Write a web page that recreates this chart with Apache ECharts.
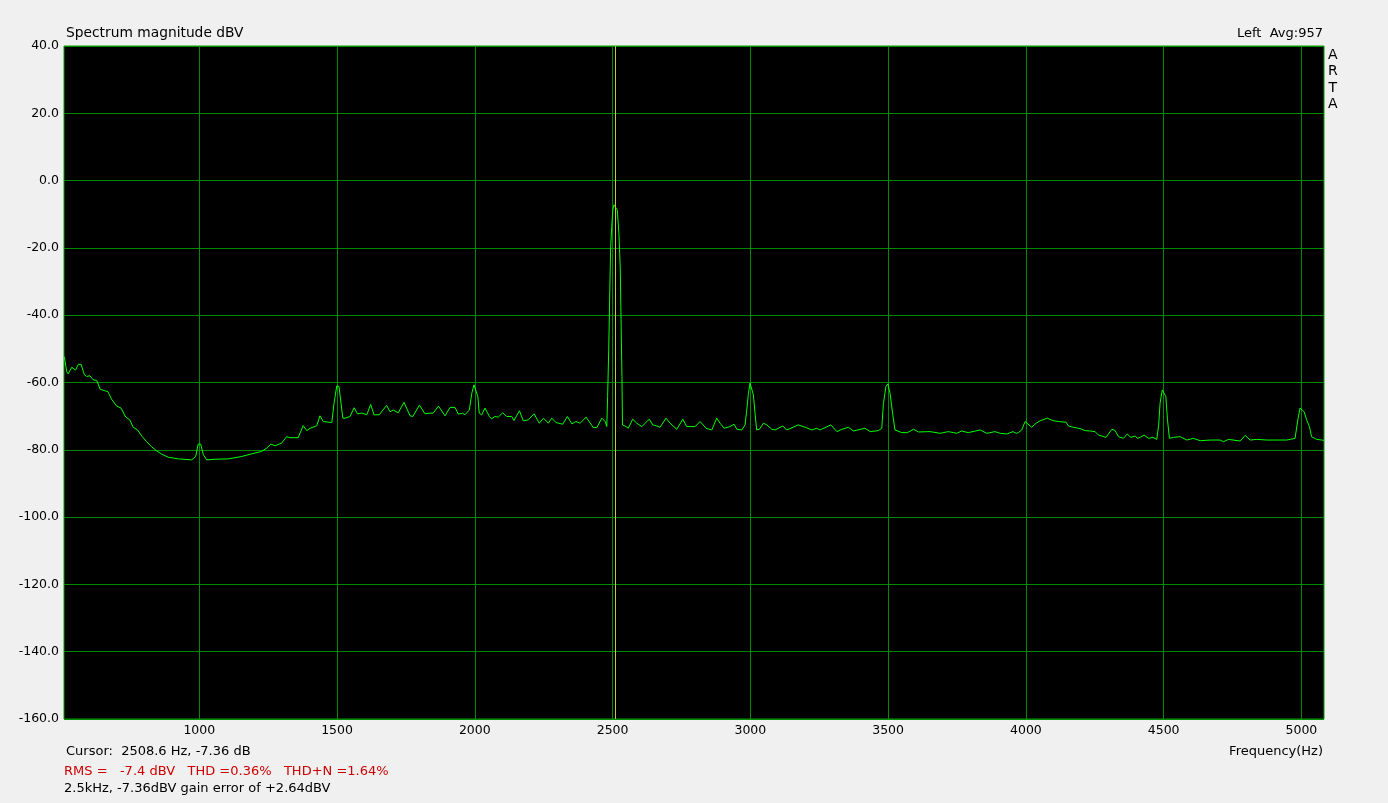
<!DOCTYPE html>
<html>
<head>
<meta charset="utf-8">
<script src="https://cdn.jsdelivr.net/npm/echarts@6/dist/echarts.min.js"></script>
<style>
html,body{margin:0;padding:0;background:#f0f0f0;}
#chart{width:1388px;height:803px;}
</style>
</head>
<body>
<div id="chart"></div>
<script>
const xTicks = [1000, 1500, 2000, 2500, 3000, 3500, 4000, 4500, 5000];
const freqHz = [
510,519,524,537,551,561,571,583,591,603,615,628,640,655,668,682,700,716,733,748,760,776,793,809,827,845,864,887,924,972,987,996,1005,1015,1027,1057,1105,1154,1190,1226,1245,1260,1275,1299,1317,1329,1359,1377,1390,1402,1426,1438,1450,1481,
1489,1499,1507,1513,1521,1529,1535,1547,1562,1574,1590,1608,1622,1634,1653,1680,1692,1704,1722,1743,1765,1775,1799,1819,1837,1849,1868,1892,1910,1928,1940,1956,1964,1980,1989,1997,2004,2011,2016,2025,2037,2053,2061,2073,2085,2101,2116,2134,2142,2162,2176,2194,2215,2234,2249,2267,2279,2295,2319,2336,2352,2367,2382,2404,2430,2443,2461,2473,2479,
2482,2486,2490,2493,2497,2501,2505,2511,2517,2523,2528,2530,2534,2536,
2549,2557,2573,2588,2606,2633,2646,2660,2672,2694,2709,2733,2755,2769,2799,2818,2839,2860,2878,2890,2905,2926,2941,2951,2969,2981,2987,2993,2999,3005,3011,3017,3023,3033,3047,3060,3078,3090,3118,3132,3144,3174,3199,3223,3241,3253,3292,3314,3332,3356,3374,3416,3435,3465,3477,3483,3492,3499,3507,3517,3525,3550,3570,3592,3610,3652,3689,3719,3749,3767,3791,3834,3858,3888,3907,
3931,3937,3953,3965,3973,3985,3997,4003,4021,4037,4054,4078,4097,4118,4146,4154,4172,4197,4215,4233,4251,4263,4291,4312,4324,4336,4354,4368,4381,4397,4405,4415,4429,4445,4461,4475,4482,4487,4495,4502,4508,4514,4521,4536,4560,4584,4608,4633,4669,4705,4717,4735,4778,4796,4814,4838,4875,4911,4947,4977,4987,4995,5001,5010,5019,5029,5037,5055,5074,5082
];
const magDbv = [
-52.3,-56.8,-57.4,-55.5,-56.3,-54.6,-54.6,-57.7,-58.2,-58.0,-59.2,-59.4,-62.0,-62.4,-62.7,-65.0,-67.0,-67.6,-70.3,-71.1,-73.3,-74.1,-76.1,-77.6,-79.1,-80.3,-81.3,-82.2,-82.7,-83.0,-82.0,-78.3,-78.3,-81.5,-83.0,-82.8,-82.7,-82.0,-81.2,-80.5,-79.5,-78.3,-78.8,-78.0,-76.1,-76.4,-76.4,-72.8,-74.3,-73.6,-72.9,-69.9,-71.6,-71.9,
-66.2,-61.0,-61.2,-65.2,-70.6,-70.6,-70.1,-70.1,-67.5,-69.3,-69.1,-69.6,-66.5,-69.6,-69.6,-66.8,-68.7,-68.2,-69.0,-65.9,-69.9,-70.1,-66.7,-69.3,-69.1,-69.1,-67.0,-69.9,-67.4,-67.4,-69.4,-69.1,-69.6,-68.2,-63.2,-60.7,-61.0,-64.2,-69.1,-69.6,-67.6,-70.1,-70.8,-70.1,-70.3,-69.0,-70.1,-70.1,-71.3,-68.4,-71.4,-71.1,-69.3,-72.1,-70.6,-72.1,-70.6,-71.9,-72.4,-70.1,-72.3,-71.6,-72.1,-70.3,-73.4,-73.4,-70.6,-71.6,-73.1,
-64.2,-50.3,-32.5,-19.6,-13.6,-8.7,-7.2,-7.2,-8.7,-15.6,-26.5,-37.4,-58.2,-72.6,
-73.1,-73.6,-70.9,-72.1,-73.1,-70.9,-72.6,-72.9,-73.3,-70.6,-72.1,-73.9,-70.9,-73.1,-73.1,-71.6,-73.6,-74.1,-70.6,-72.1,-73.6,-73.1,-72.4,-73.9,-74.1,-72.6,-68.2,-63.2,-60.2,-60.4,-63.7,-69.1,-74.1,-73.9,-72.1,-72.6,-73.9,-74.1,-72.9,-74.1,-73.7,-72.6,-73.3,-74.1,-73.6,-74.1,-72.6,-74.6,-73.9,-73.3,-74.4,-73.6,-74.6,-74.3,-73.6,-66.2,-61.2,-60.4,-63.2,-69.6,-74.1,-74.9,-74.9,-73.9,-74.7,-74.6,-75.1,-74.6,-75.1,-74.4,-74.9,-74.1,-75.1,-74.6,-75.1,
-75.3,-75.7,-74.6,-75.1,-74.9,-74.1,-71.6,-71.9,-73.3,-72.1,-71.3,-70.6,-71.3,-71.6,-71.8,-72.9,-73.3,-73.7,-74.3,-74.4,-74.6,-75.6,-76.3,-73.9,-74.3,-76.1,-76.6,-75.3,-76.3,-75.9,-76.6,-76.3,-75.6,-76.6,-76.3,-76.9,-72.6,-66.2,-62.2,-61.7,-64.2,-71.1,-76.6,-76.3,-76.1,-77.1,-76.6,-77.3,-77.1,-77.1,-77.6,-76.9,-77.4,-75.7,-77.1,-76.9,-77.1,-77.1,-77.1,-76.6,-71.1,-67.6,-67.2,-68.7,-71.1,-73.1,-76.1,-76.9,-77.1,-77.2
];
const cursorHz = 2508.6;
const titleText = 'Spectrum magnitude dBV';
const topRightText = 'Left  Avg:957';
const brandText = 'ARTA';
const xAxisName = 'Frequency(Hz)';
const cursorText = 'Cursor:  2508.6 Hz, -7.36 dB';
const statsText = 'RMS =   -7.4 dBV   THD =0.36%   THD+N =1.64%';
const noteText = '2.5kHz, -7.36dBV gain error of +2.64dBV';

const FONT = '"DejaVu Sans", sans-serif';
const chart = echarts.init(document.getElementById('chart'));
const data = freqHz.map((f, i) => [f, magDbv[i]]);

chart.setOption({
  animation: false,
  backgroundColor: '#f0f0f0',
  grid: {
    left: 64, right: 64, top: 46, bottom: 84,
    show: true, backgroundColor: '#000000', borderColor: '#00a000', borderWidth: 1
  },
  xAxis: {
    type: 'value', min: 509, max: 5082,
    axisLine: { show: false },
    axisTick: { show: false, customValues: xTicks },
    axisLabel: { customValues: xTicks, color: '#000', fontFamily: FONT, fontSize: 12.5, margin: 5,
      formatter: v => String(Math.round(v)) },
    splitLine: { show: true, lineStyle: { color: '#008a00', width: 1 } }
  },
  yAxis: {
    type: 'value', min: -160, max: 40, interval: 20,
    axisLine: { show: false },
    axisTick: { show: false },
    axisLabel: { color: '#000', fontFamily: FONT, fontSize: 12.5, margin: 5,
      formatter: v => v.toFixed(1) },
    splitLine: { show: true, lineStyle: { color: '#008a00', width: 1 } }
  },
  series: [{
    type: 'line', data: data, showSymbol: false, symbol: 'none',
    lineStyle: { color: '#00ff00', width: 1 },
    z: 3,
    markLine: {
      silent: true, symbol: 'none', label: { show: false },
      lineStyle: { color: '#c8c832', width: 1, type: 'solid' },
      data: [{ xAxis: cursorHz }]
    }
  }],
  graphic: [
    { type: 'text', left: 66, top: 26, style: { text: titleText, font: '13.8px ' + FONT, fill: '#000' } },
    { type: 'text', right: 65, top: 27, style: { text: topRightText, font: '13px ' + FONT, fill: '#000', textAlign: 'right' } },
    { type: 'text', left: 1328, top: 47, style: { text: brandText.split('').join('\n'), font: '14px ' + FONT, fill: '#000', lineHeight: 16.5, textAlign: 'center' } },
    { type: 'text', right: 65, top: 745, style: { text: xAxisName, font: '13px ' + FONT, fill: '#000' } },
    { type: 'text', left: 66, top: 745, style: { text: cursorText, font: '13px ' + FONT, fill: '#000' } },
    { type: 'text', left: 64, top: 765, style: { text: statsText, font: '13px ' + FONT, fill: '#cc0000' } },
    { type: 'text', left: 64, top: 782, style: { text: noteText, font: '13px ' + FONT, fill: '#000' } }
  ]
});
</script>
</body>
</html>
